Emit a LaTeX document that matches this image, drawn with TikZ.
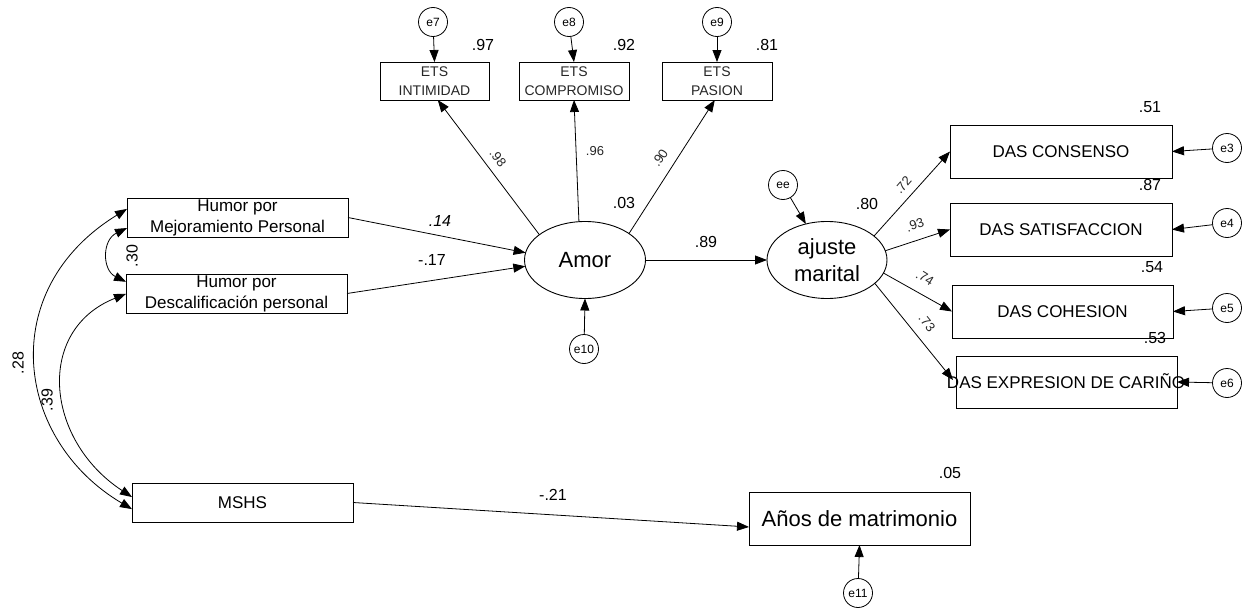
\documentclass[tikz,border=0pt]{standalone}
\usepackage{fontspec}
\setmainfont{Liberation Sans}
\usetikzlibrary{shapes.geometric,arrows.meta,calc}
\begin{document}
\begin{tikzpicture}[x=1pt,y=-1pt,
  >={Triangle[length=12pt,width=9pt]},
  every node/.style={inner sep=0pt, outer sep=0pt},
  box/.style={draw, line width=0.9pt, rectangle, align=center},
  dasbox/.style={box, minimum width=222pt, minimum height=53pt, font=\fontsize{17}{17}\selectfont},
  humbox/.style={box, minimum width=221pt, minimum height=39pt, font=\fontsize{17}{21}\selectfont},
  etsbox/.style={box, minimum width=110pt, minimum height=38pt, font=\fontsize{14}{19}\selectfont, text=black!85},
  err/.style={draw, circle, line width=0.8pt, minimum size=29pt, font=\fontsize{12}{12}\selectfont},
  lat/.style={draw, ellipse, line width=0.9pt, minimum width=121pt, minimum height=77pt, align=center, font=\fontsize{22}{27}\selectfont},
  pth/.style={->, line width=0.8pt},
  cov/.style={<->, line width=0.8pt},
  num/.style={font=\fontsize{16}{16}\selectfont},
  coef/.style={font=\fontsize{13}{13}\selectfont, text=black!85},
]
\useasboundingbox (0,0) rectangle (1254,613);

% ETS indicators
\node[etsbox, minimum width=109pt] (ets1) at (434.5,81) {ETS\\INTIMIDAD};
\node[etsbox] (ets2) at (574,81) {ETS\\COMPROMISO};
\node[etsbox] (ets3) at (717,81) {ETS\\PASION};
\node[err] (e7) at (433,22) {e7};
\node[err] (e8) at (569,22) {e8};
\node[err] (e9) at (717,22) {e9};
\node[num] (r97) at (483,45) {.97};
\node[num] (r92) at (624,45) {.92};
\node[num] (r81) at (767,45) {.81};

% latent
\node[lat] (amor) at (585,260) {Amor};
\node[err] (e10) at (584,349) {e10};
\node[lat, minimum width=120pt] (aj) at (827,260) {ajuste\\marital};
\node[err] (ee) at (783,185) {ee};
\node[num] (r03) at (624,203) {.03};
\node[num] (r80) at (867,204) {.80};

% DAS
\node[dasbox] (cons) at (1061,151.5) {DAS CONSENSO};
\node[dasbox] (sat) at (1061,229.5) {DAS SATISFACCION};
\node[dasbox, minimum width=221pt] (coh) at (1062.5,311.5) {DAS COHESION};
\node[box, minimum width=221pt, minimum height=52pt] (expr) at (1066.5,382) {};
\node[font=\fontsize{17}{17}\selectfont] (exprt) at (1066,381) {DAS EXPRESION DE CARIÑO};
\node[err] (e3) at (1227,148) {e3};
\node[err] (e4) at (1227,223) {e4};
\node[err] (e5) at (1227,308) {e5};
\node[err] (e6) at (1227,383) {e6};
\node[num] (r51) at (1150,107) {.51};
\node[num] (r87) at (1150,185) {.87};
\node[num] (r54) at (1152,267) {.54};
\node[num] (r53) at (1155,338) {.53};

% left side
\node[humbox] (mej) at (237.5,217.5) {Humor por\\Mejoramiento Personal};
\node[humbox] (desc) at (236.5,293.5) {Humor por\\Descalificación personal};
\node[humbox, font=\fontsize{17}{17}\selectfont] (mshs) at (242.5,502.5) {MSHS};
\node[box, minimum width=221pt, minimum height=53pt, font=\fontsize{22}{22}\selectfont] (anos) at (859.5,518.5) {Años de matrimonio};
\node[err] (e11) at (858,593) {e11};
\node[num] (r05) at (950,473) {.05};

% paths
\draw[pth] (e7) -- (ets1.north);
\draw[pth] (e8) -- (ets2.north);
\draw[pth] (e9) -- (ets3.north);
\draw[pth] (amor.151) -- ($(ets1.south west)!0.53!(ets1.south east)$);
\draw[pth] (amor.99) -- ($(ets2.south west)!0.5!(ets2.south east)$);
\draw[pth] (amor.31) -- ($(ets3.south west)!0.48!(ets3.south east)$);
\draw[pth] (e10) -- (amor.south);
\draw[pth] (amor.east) -- (aj.west);
\draw[pth] (ee) -- (aj);
\draw[pth] (aj.27) -- (cons.west);
\draw[pth] (aj.9) -- (sat.west);
\draw[pth] (aj.347) -- (coh.west);
\draw[pth] (aj.334) -- ($(expr.west)+(-3,-2)$);
\draw[pth] (e3) -- (cons.east);
\draw[pth] (e4) -- (sat.east);
\draw[pth] (e5) -- (coh.east);
\draw[pth] (e6) -- (expr.east);
\draw[pth] (mej.east) -- (amor.173);
\draw[pth] (desc.east) -- (amor.186);
\draw[pth] (mshs.east) -- ($(anos.north west)!0.66!(anos.south west)$);
\draw[pth] (e11) -- (anos.south);

% covariances
\draw[cov] ($(mej.north west)!0.77!(mej.south west)$) .. controls (102,240) and (102,270) .. ($(desc.north west)!0.2!(desc.south west)$);
\draw[cov] ($(mej.north west)!0.28!(mej.south west)$) .. controls (-5,290) and (15,440) .. ($(mshs.north west)!0.67!(mshs.south west)$);
\draw[cov] ($(desc.north west)!0.51!(desc.south west)$) .. controls (35,330) and (45,440) .. ($(mshs.north west)!0.36!(mshs.south west)$);

% coefficient labels
\node[coef, rotate=-52] (c98) at (498,158) {.98};
\node[coef] (c96) at (595,151) {.96};
\node[coef, rotate=56] (c90) at (660,158) {.90};
\node[coef, rotate=49] (c72) at (903,185) {.72};
\node[coef, rotate=19] (c93) at (915,225) {.93};
\node[coef, rotate=-32] (c74) at (925,278) {.74};
\node[coef, rotate=-51] (c73) at (927,323) {.73};
\node[num] (c89) at (706,242) {.89};
\node[num] (c14) at (440,221) {\itshape .14};
\node[num] (c17) at (432,260) {-.17};
\node[num] (c21) at (553,495) {-.21};
\node[num, rotate=90] (c30) at (132,256) {.30};
\node[num, rotate=90] (c28) at (18,363) {.28};
\node[num, rotate=90] (c39) at (47,400) {.39};
\end{tikzpicture}
\end{document}
